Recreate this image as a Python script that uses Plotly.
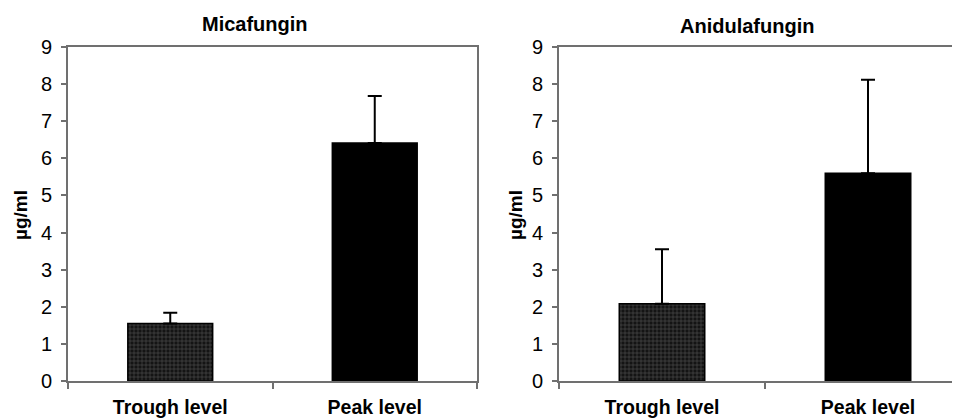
import plotly.graph_objects as go

categories = ["Trough level", "Peak level"]
mica_values = [1.55, 6.41]
mica_err = [0.29, 1.27]
anid_values = [2.08, 5.60]
anid_err = [1.47, 2.52]
panel_titles = ["Micafungin", "Anidulafungin"]
y_title = "µg/ml"
y_ticks = [0, 1, 2, 3, 4, 5, 6, 7, 8, 9]

FONT = "Liberation Sans, Arial, sans-serif"
AXIS_GRAY = "#707070"
W, H = 960, 420
OFF = 8  # page body margin offset


def px(x):
    return (x - OFF) / W


def py(y):
    return (H - (y - OFF)) / H


fig = go.Figure()


def add_panel(values, errs, xa, ya):
    # trough bar (patterned)
    fig.add_trace(go.Bar(
        x=[categories[0]], y=[values[0]], width=[0.415],
        xaxis=xa, yaxis=ya,
        marker=dict(color="#1c1c1c",
                    line=dict(color="black", width=1.5),
                    pattern=dict(shape="+", fgcolor="#9a9a9a", bgcolor="#141414",
                                 size=4, solidity=0.25)),
        error_y=dict(type="data", symmetric=False, array=[errs[0]], arrayminus=[0],
                     color="black", thickness=2, width=7),
        showlegend=False,
    ))
    # peak bar (solid black)
    fig.add_trace(go.Bar(
        x=[categories[1]], y=[values[1]], width=[0.415],
        xaxis=xa, yaxis=ya,
        marker=dict(color="black", line=dict(color="black", width=1.5)),
        error_y=dict(type="data", symmetric=False, array=[errs[1]], arrayminus=[0],
                     color="black", thickness=2, width=7),
        showlegend=False,
    ))


add_panel(mica_values, mica_err, "x", "y")
add_panel(anid_values, anid_err, "x2", "y2")

ydom = [py(381), py(47)]

xaxis_common = dict(
    type="category", categoryorder="array", categoryarray=categories,
    showline=True, linecolor=AXIS_GRAY, linewidth=2,
    ticks="outside", tickson="boundaries", ticklen=6, tickwidth=1.5, tickcolor=AXIS_GRAY,
    tickfont=dict(family=FONT, size=19.5, color="black", weight="bold"),
    ticklabelstandoff=8, automargin=False,
    showgrid=False, zeroline=False, fixedrange=True,
)
yaxis_common = dict(
    range=[0, 9], tickvals=y_ticks,
    showline=True, linecolor=AXIS_GRAY, linewidth=2,
    ticks="outside", ticklen=5, tickwidth=1.5, tickcolor=AXIS_GRAY,
    tickfont=dict(family=FONT, size=20, color="black"),
    ticklabelstandoff=5, automargin=False,
    showgrid=False, zeroline=False, fixedrange=True,
)

right_start = 559
right_end_range = -0.5 + (W + OFF - right_start) / 206

fig.update_layout(
    width=W, height=H,
    margin=dict(l=0, r=0, t=0, b=0, autoexpand=False),
    paper_bgcolor="white", plot_bgcolor="white",
    bargap=0.2,
    xaxis=dict(xaxis_common, domain=[px(68), px(477)], range=[-0.5, 1.5],
               anchor="y", mirror=True),
    yaxis=dict(yaxis_common, domain=ydom, anchor="x", mirror=True),
    xaxis2=dict(xaxis_common, domain=[px(right_start), 1.0], range=[-0.5, right_end_range],
                anchor="y2", mirror=True),
    yaxis2=dict(yaxis_common, domain=ydom, anchor="x2", mirror=False),
)

annots = [
    dict(text=f"<b>{panel_titles[0]}</b>", x=px(255), y=py(24)),
    dict(text=f"<b>{panel_titles[1]}</b>", x=px(747), y=py(26)),
]
for a in annots:
    fig.add_annotation(xref="paper", yref="paper", x=a["x"], y=a["y"], text=a["text"],
                       showarrow=False, xanchor="center", yanchor="middle",
                       font=dict(family=FONT, size=20, color="black"))

for xpos in [px(20), px(515)]:
    fig.add_annotation(xref="paper", yref="paper", x=xpos, y=py(215),
                       text=f"<b>{y_title}</b>", textangle=-90, showarrow=False,
                       xanchor="center", yanchor="middle",
                       font=dict(family=FONT, size=19, color="black"))

fig.write_html("out.html")
